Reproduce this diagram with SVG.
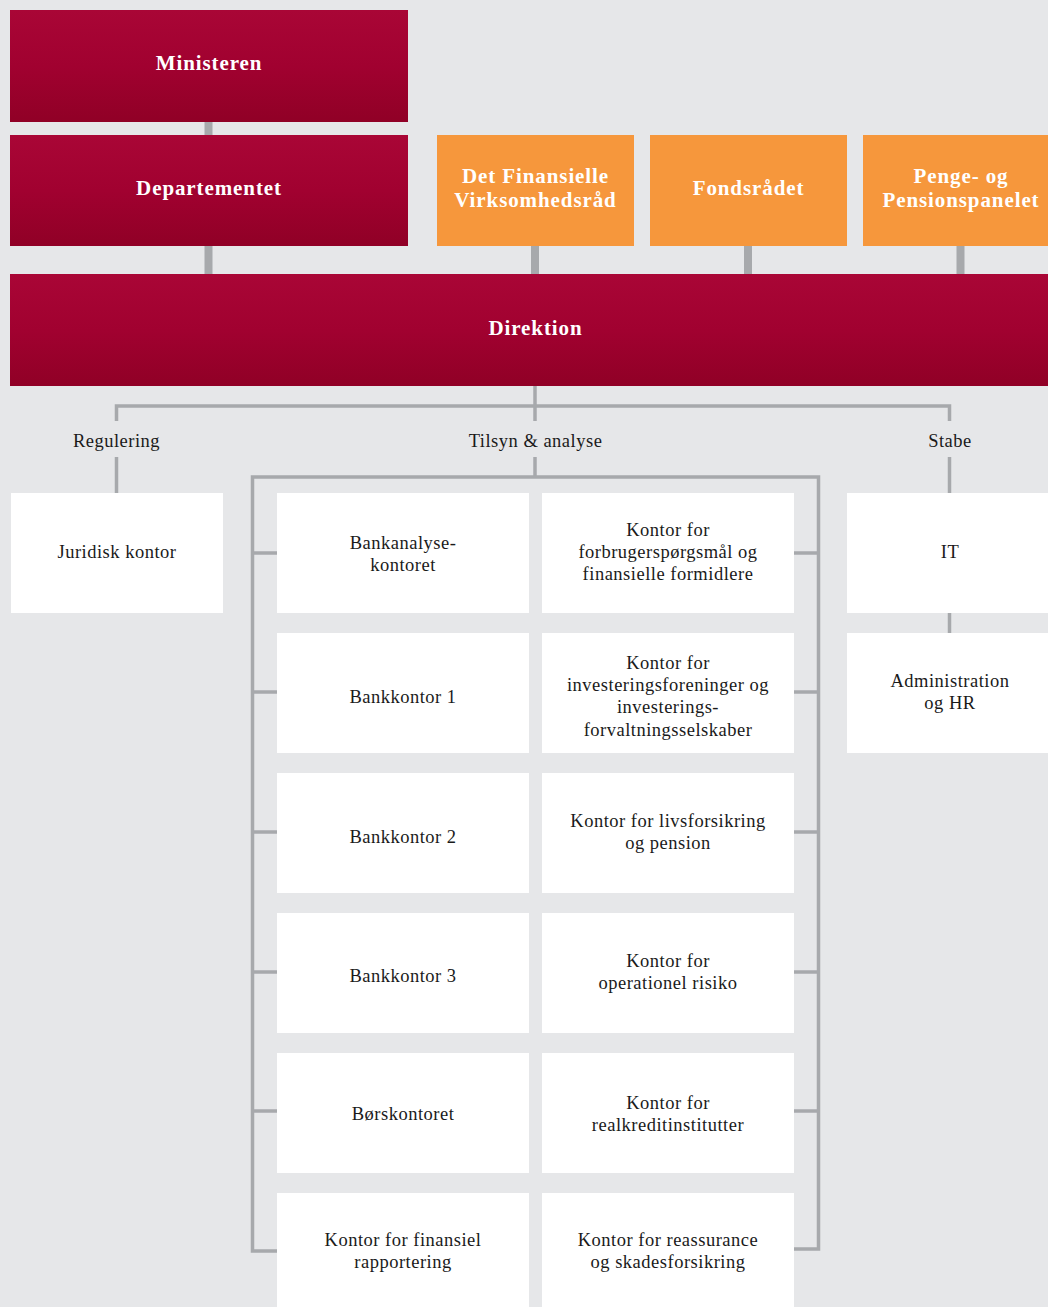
<svg xmlns="http://www.w3.org/2000/svg" width="1048" height="1307" viewBox="0 0 1048 1307">
<defs>
<linearGradient id="red" x1="0" y1="0" x2="0" y2="1">
<stop offset="0" stop-color="#a90636"/>
<stop offset="0.5" stop-color="#a10130"/>
<stop offset="1" stop-color="#900026"/>
</linearGradient>
<style>
.red{fill:url(#red)}
.org{fill:#f6973c}
.wht{fill:#ffffff}
.ht{font-family:"Liberation Serif","Times New Roman",serif;font-weight:bold;font-size:21px;fill:#ffffff;text-anchor:middle;letter-spacing:0.9px}
.bt{font-family:"Liberation Serif","Times New Roman",serif;font-size:18.5px;fill:#1a1a1a;text-anchor:middle;letter-spacing:0.5px}
.thick{stroke:#a7a9ac;stroke-width:8;fill:none}
.thin{stroke:#a7a9ac;stroke-width:3.5;fill:none}
</style>
</defs>
<rect x="0" y="0" width="1048" height="1307" fill="#e6e7e9"/>
<g id="connectors">
<line class="thick" x1="208.5" y1="122" x2="208.5" y2="135"/>
<line class="thick" x1="208.5" y1="246" x2="208.5" y2="274"/>
<line class="thick" x1="535" y1="246" x2="535" y2="274"/>
<line class="thick" x1="748" y1="246" x2="748" y2="274"/>
<line class="thick" x1="960.5" y1="246" x2="960.5" y2="274"/>
<line class="thin" x1="535" y1="386" x2="535" y2="421" stroke-width="4.5"/>
<polyline class="thin" points="116.5,421 116.5,406 949.5,406 949.5,421"/>
<line class="thin" x1="116.5" y1="457" x2="116.5" y2="493"/>
<line class="thin" x1="535" y1="457" x2="535" y2="477"/>
<line class="thin" x1="949.5" y1="457" x2="949.5" y2="493"/>
<line class="thin" x1="949.5" y1="613" x2="949.5" y2="633"/>
<polyline class="thin" points="277,1251 252.5,1251 252.5,477 818.5,477 818.5,1249 794,1249"/>
<line class="thin" x1="252.5" y1="553" x2="277" y2="553"/>
<line class="thin" x1="252.5" y1="692" x2="277" y2="692"/>
<line class="thin" x1="252.5" y1="832" x2="277" y2="832"/>
<line class="thin" x1="252.5" y1="972" x2="277" y2="972"/>
<line class="thin" x1="252.5" y1="1111" x2="277" y2="1111"/>
<line class="thin" x1="794" y1="553" x2="818.5" y2="553"/>
<line class="thin" x1="794" y1="692" x2="818.5" y2="692"/>
<line class="thin" x1="794" y1="832" x2="818.5" y2="832"/>
<line class="thin" x1="794" y1="972" x2="818.5" y2="972"/>
<line class="thin" x1="794" y1="1111" x2="818.5" y2="1111"/>
</g>
<g id="ministeren"><rect class="red" x="10" y="10" width="398" height="112"/><text class="ht" x="209" y="70">Ministeren</text></g>
<g id="departementet"><rect class="red" x="10" y="135" width="398" height="111"/><text class="ht" x="209" y="195">Departementet</text></g>
<g id="dfv"><rect class="org" x="437" y="135" width="197" height="111"/><text class="ht" x="535.5" y="183">Det Finansielle</text><text class="ht" x="535.5" y="207">Virksomhedsråd</text></g>
<g id="fondsraadet"><rect class="org" x="650" y="135" width="197" height="111"/><text class="ht" x="748.5" y="195">Fondsrådet</text></g>
<g id="pengepanel"><rect class="org" x="863" y="135" width="197" height="111"/><text class="ht" x="961" y="183">Penge- og</text><text class="ht" x="961" y="207">Pensionspanelet</text></g>
<g id="direktion"><rect class="red" x="10" y="274" width="1048" height="112"/><text class="ht" x="535.5" y="335">Direktion</text></g>
<g id="lbl-regulering"><text class="bt" x="116.5" y="447">Regulering</text></g>
<g id="lbl-tilsyn"><text class="bt" x="535.5" y="447">Tilsyn &amp; analyse</text></g>
<g id="lbl-stabe"><text class="bt" x="950" y="447">Stabe</text></g>
<g id="juridisk"><rect class="wht" x="11" y="493" width="212" height="120"/><text class="bt" x="117" y="558">Juridisk kontor</text></g>
<g id="it"><rect class="wht" x="847" y="493" width="210" height="120"/><text class="bt" x="950" y="558">IT</text></g>
<g id="admin"><rect class="wht" x="847" y="633" width="210" height="120"/><text class="bt" x="950" y="687">Administration</text><text class="bt" x="950" y="709">og HR</text></g>
<g id="bankanalyse"><rect class="wht" x="277" y="493" width="252" height="120"/><text class="bt" x="403" y="549">Bankanalyse-</text><text class="bt" x="403" y="571">kontoret</text></g>
<g id="forbruger"><rect class="wht" x="542" y="493" width="252" height="120"/><text class="bt" x="668" y="536">Kontor for</text><text class="bt" x="668" y="558">forbrugerspørgsmål og</text><text class="bt" x="668" y="580">finansielle formidlere</text></g>
<g id="bankkontor1"><rect class="wht" x="277" y="633" width="252" height="120"/><text class="bt" x="403" y="703">Bankkontor 1</text></g>
<g id="investering"><rect class="wht" x="542" y="633" width="252" height="120"/><text class="bt" x="668" y="669">Kontor for</text><text class="bt" x="668" y="691">investeringsforeninger og</text><text class="bt" x="668" y="713">investerings-</text><text class="bt" x="668" y="736">forvaltningsselskaber</text></g>
<g id="bankkontor2"><rect class="wht" x="277" y="773" width="252" height="120"/><text class="bt" x="403" y="843">Bankkontor 2</text></g>
<g id="livsforsikring"><rect class="wht" x="542" y="773" width="252" height="120"/><text class="bt" x="668" y="827">Kontor for livsforsikring</text><text class="bt" x="668" y="849">og pension</text></g>
<g id="bankkontor3"><rect class="wht" x="277" y="913" width="252" height="120"/><text class="bt" x="403" y="982">Bankkontor 3</text></g>
<g id="operationel"><rect class="wht" x="542" y="913" width="252" height="120"/><text class="bt" x="668" y="967">Kontor for</text><text class="bt" x="668" y="989">operationel risiko</text></g>
<g id="boerskontoret"><rect class="wht" x="277" y="1053" width="252" height="120"/><text class="bt" x="403" y="1120">Børskontoret</text></g>
<g id="realkredit"><rect class="wht" x="542" y="1053" width="252" height="120"/><text class="bt" x="668" y="1109">Kontor for</text><text class="bt" x="668" y="1131">realkreditinstitutter</text></g>
<g id="finansiel-rapportering"><rect class="wht" x="277" y="1193" width="252" height="120"/><text class="bt" x="403" y="1246">Kontor for finansiel</text><text class="bt" x="403" y="1268">rapportering</text></g>
<g id="reassurance"><rect class="wht" x="542" y="1193" width="252" height="120"/><text class="bt" x="668" y="1246">Kontor for reassurance</text><text class="bt" x="668" y="1268">og skadesforsikring</text></g>
</svg>
